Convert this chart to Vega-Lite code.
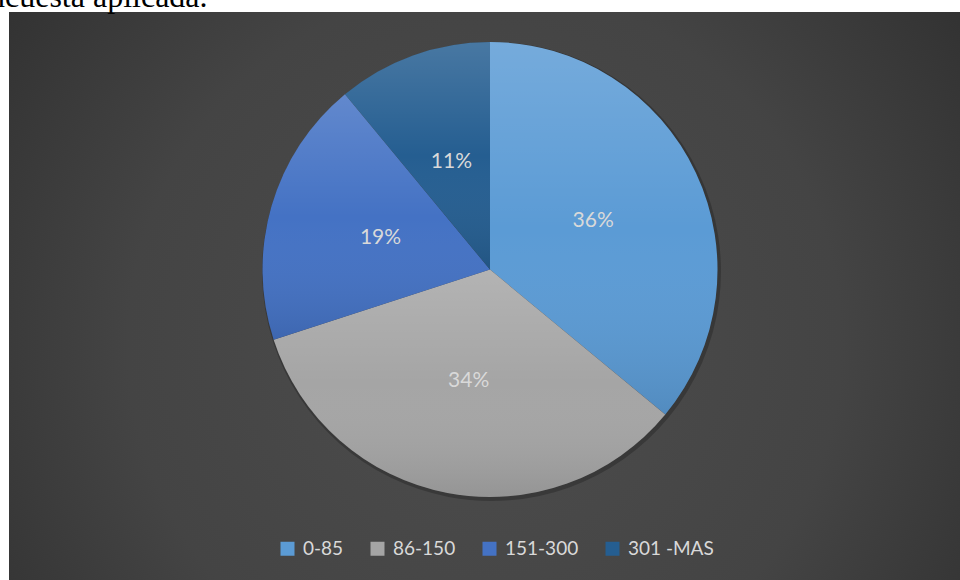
{
  "$schema": "https://vega.github.io/schema/vega-lite/v6.json",
  "width": 951,
  "height": 568,
  "autosize": {"type": "none"},
  "padding": {"left": 9, "top": 12, "right": 0, "bottom": 0},
  "background": "#ffffff",
  "view": {
    "stroke": null,
    "fill": {
      "gradient": "radial",
      "x1": 0.5, "y1": 0.55, "r1": 0,
      "x2": 0.5, "y2": 0.55, "r2": 0.75,
      "stops": [
        {"offset": 0, "color": "#4d4d4d"},
        {"offset": 0.5, "color": "#444444"},
        {"offset": 1, "color": "#282828"}
      ]
    }
  },
  "title": {
    "text": "ncuesta aplicada.",
    "anchor": "start",
    "frame": "group",
    "font": "Liberation Serif",
    "fontSize": 32,
    "fontWeight": "normal",
    "color": "#000000",
    "baseline": "alphabetic",
    "offset": 4.7,
    "dx": -20,
    "dy": 32
  },
  "data": {
    "values": [
      {"rango": "0-85", "pct": 36, "etiqueta": "36%", "orden": 1},
      {"rango": "86-150", "pct": 34, "etiqueta": "34%", "orden": 2},
      {"rango": "151-300", "pct": 19, "etiqueta": "19%", "orden": 3},
      {"rango": "301 -MAS", "pct": 11, "etiqueta": "11%", "orden": 4}
    ]
  },
  "encoding": {
    "theta": {"field": "pct", "type": "quantitative", "stack": true},
    "order": {"field": "orden", "type": "quantitative"}
  },
  "layer": [
    {
      "mark": {
        "type": "arc",
        "radius": 229.5,
        "x": {"expr": "width/2+7"},
        "y": {"expr": "height/2-24.5"},
        "fill": "#000000",
        "opacity": 0.22
      }
    },
    {
      "mark": {
        "type": "arc",
        "radius": 227.5,
        "x": {"expr": "width/2+5.5"},
        "y": {"expr": "height/2-26.5"}
      },
      "encoding": {
        "color": {
          "field": "rango",
          "type": "nominal",
          "sort": null,
          "scale": {
            "domain": ["0-85", "86-150", "151-300", "301 -MAS"],
            "range": ["#5B9BD5", "#A5A5A5", "#4472C4", "#255E91"]
          },
          "legend": {
            "title": null,
            "orient": "none",
            "legendX": 269,
            "legendY": 527,
            "direction": "horizontal",
            "symbolType": "square",
            "symbolSize": 196,
            "symbolStrokeWidth": 0,
            "labelFont": "Lato",
            "labelFontSize": 19,
            "labelColor": "#d9d9d9",
            "labelOffset": 6,
            "columnPadding": 24,
            "padding": 0
          }
        }
      }
    },
    {
      "mark": {
        "type": "arc",
        "radius": 227.5,
        "x": {"expr": "width/2+5.5"},
        "y": {"expr": "height/2-26.5"},
        "fill": {
          "gradient": "linear",
          "x1": 0, "y1": 0, "x2": 0, "y2": 1,
          "stops": [
            {"offset": 0, "color": "rgba(255,255,255,0.16)"},
            {"offset": 0.5, "color": "rgba(255,255,255,0)"},
            {"offset": 1, "color": "rgba(0,0,0,0.1)"}
          ]
        }
      }
    },
    {
      "mark": {
        "type": "text",
        "radius": 114,
        "x": {"expr": "width/2+5.5"},
        "y": {"expr": "height/2-26.5"},
        "font": "Lato",
        "fontSize": 21,
        "color": "#d9d9d9",
        "align": "center",
        "baseline": "middle"
      },
      "encoding": {
        "text": {"field": "etiqueta", "type": "nominal"}
      }
    }
  ]
}
